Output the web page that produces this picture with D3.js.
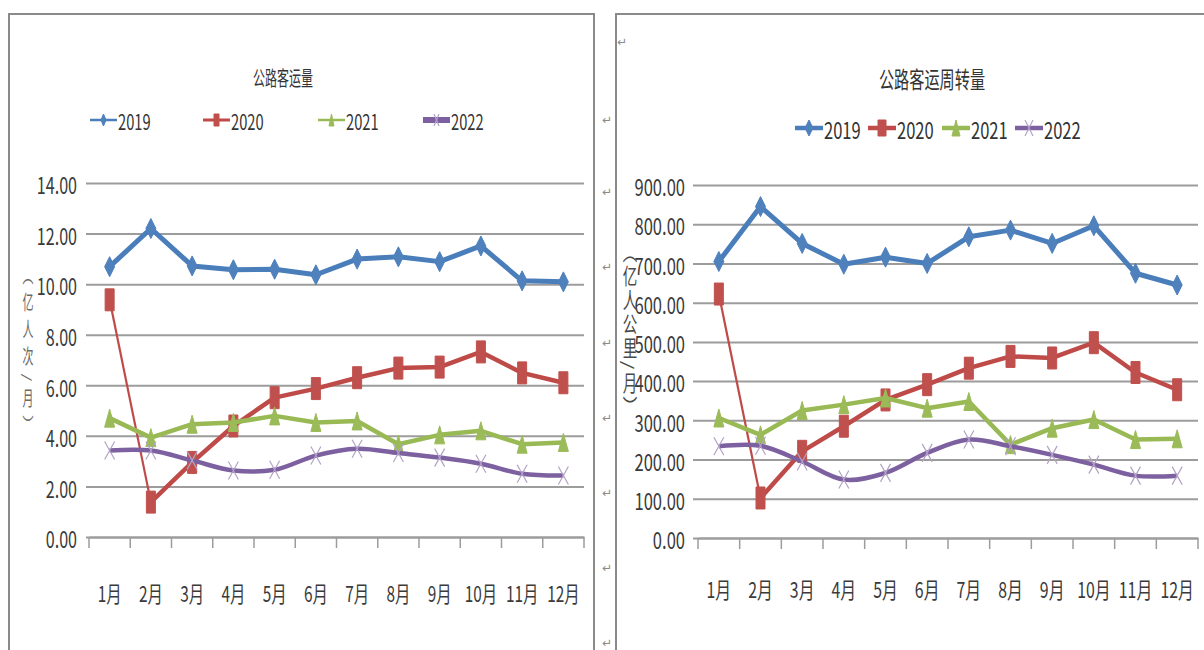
<!DOCTYPE html>
<html lang="zh">
<head>
<meta charset="UTF-8">
<title>公路客运量 / 公路客运周转量</title>
<script src="https://d3js.org/d3.v7.min.js"></script>
<style>
  body { margin: 0; background: #fff; }
  svg text { font-family: "Liberation Sans Narrow", "Noto Sans CJK SC", sans-serif; }
</style>
</head>
<body>
<div id="chart"></div>
<script>
// Data
const months = ["1月", "2月", "3月", "4月", "5月", "6月", "7月", "8月", "9月", "10月", "11月", "12月"];
const years = ["2019", "2020", "2021", "2022"];

// 公路客运量 (亿人次/月)
const pass2019 = [10.69, 12.2, 10.72, 10.57, 10.59, 10.37, 10.99, 11.08, 10.89, 11.51, 10.13, 10.09];
const pass2020 = [9.38, 1.38, 2.95, 4.39, 5.51, 5.87, 6.3, 6.68, 6.72, 7.32, 6.49, 6.1];
const pass2021 = [4.7, 3.93, 4.46, 4.53, 4.79, 4.53, 4.59, 3.67, 4.04, 4.2, 3.67, 3.74];
const pass2022 = [3.42, 3.42, 3.03, 2.63, 2.66, 3.22, 3.49, 3.32, 3.14, 2.9, 2.5, 2.43];
const passTicks = [0, 2, 4, 6, 8, 10, 12, 14];

// 公路客运周转量 (亿人公里/月)
const turn2019 = [705, 845, 751, 698, 716, 700, 768, 785, 751, 796, 675, 645];
const turn2020 = [622, 102, 221, 285, 352, 391, 433, 463, 459, 498, 422, 378];
const turn2021 = [306, 263, 325, 340, 357, 331, 348, 238, 280, 302, 251, 253];
const turn2022 = [234, 235, 195, 149, 166, 217, 251, 234, 212, 187, 159, 159];
const turnTicks = [0, 100, 200, 300, 400, 500, 600, 700, 800, 900];

const lineColors = ["#4a7ebb", "#be4b48", "#98b954", "#7d60a0"];
const markColors = ["#4f81bd", "#c0504d", "#9bbb59", "#b3a2c7"];
const shapes = ["diamond", "square", "triangle", "cross"];

var svg = d3.select("#chart").append("svg")
  .attr("width", 1204)
  .attr("height", 650);

svg.append("rect").attr("width", 1204).attr("height", 650).attr("fill", "#fff");

// text squeezed horizontally, like the reference
function label(g, x, y, s, size, sx, anchor, fill) {
  return g.append("text")
    .attr("transform", "translate(" + x + "," + y + ") scale(" + sx + ",1)")
    .attr("text-anchor", anchor)
    .attr("dominant-baseline", "central")
    .style("font-size", size + "px")
    .attr("fill", fill)
    .text(s);
}

function markerPath(shape, w, h) {
  if (shape == "diamond") return "M0," + (-h / 2) + "L" + (w / 2) + ",0L0," + (h / 2) + "L" + (-w / 2) + ",0Z";
  if (shape == "square") return "M" + (-w / 2) + "," + (-h / 2) + "h" + w + "v" + h + "h" + (-w) + "Z";
  if (shape == "triangle") return "M0," + (-h / 2) + "L" + (w / 2) + "," + (h / 2) + "L" + (-w / 2) + "," + (h / 2) + "Z";
  return "M" + (-w / 2) + "," + (-h / 2) + "L" + (w / 2) + "," + (h / 2) + "M" + (w / 2) + "," + (-h / 2) + "L" + (-w / 2) + "," + (h / 2);
}

function drawMarker(g, i, x, y, w, h) {
  var p = g.append("path")
    .attr("transform", "translate(" + x + "," + y + ")")
    .attr("d", markerPath(shapes[i], w, h));
  if (shapes[i] == "cross") {
    p.attr("fill", "none").attr("stroke", markColors[i]).attr("stroke-width", 1.2);
  } else {
    p.attr("fill", markColors[i]).attr("stroke", markColors[i]).attr("stroke-width", 1);
  }
}

function drawPanel(cfg) {
  var g = svg.append("g");

  // frame
  g.append("path")
    .attr("d", "M" + cfg.frame[0] + ",660V14H" + cfg.frame[1] + "V660")
    .attr("fill", "none")
    .attr("stroke", "#8a8a8a")
    .attr("stroke-width", 2);

  var x = d3.scaleBand().domain(months).range([cfg.x0, cfg.x1]);
  var y = d3.scaleLinear().domain([0, cfg.max]).range([cfg.yBot, cfg.yTop]);

  // gridlines + y labels
  var ya = g.append("g")
    .attr("transform", "translate(" + cfg.gridStart + ",0)")
    .call(d3.axisLeft(y).tickValues(cfg.ticks).tickSize(-(cfg.x1 - cfg.gridStart)).tickFormat(d3.format(".2f")));
  ya.select(".domain").remove();
  ya.selectAll("line").attr("stroke", "#9c9c9c").attr("stroke-width", 2);
  ya.selectAll("text")
    .attr("x", null).attr("dy", null)
    .attr("dominant-baseline", "central")
    .attr("transform", "translate(" + (-cfg.labelPad) + ",1) scale(" + cfg.sx + ",1)")
    .attr("fill", "#3a3a3a")
    .style("font-size", cfg.labelSize + "px");

  // x axis
  var xa = g.append("g")
    .attr("transform", "translate(0," + cfg.yBot + ")")
    .call(d3.axisBottom(x).tickSize(0).tickSizeOuter(0));
  xa.select(".domain").attr("stroke", "#9c9c9c").attr("stroke-width", 2);
  xa.selectAll("text")
    .attr("y", null).attr("dy", null)
    .attr("dominant-baseline", "central")
    .attr("transform", "translate(0," + cfg.xLabelDy + ") scale(" + cfg.sx + ",1)")
    .attr("fill", "#3a3a3a")
    .style("font-size", cfg.xLabelSize + "px");

  var bounds = months.map(function (m) { return x(m); }).concat([cfg.x1]);
  g.append("g").selectAll("line")
    .data(bounds)
    .enter()
    .append("line")
    .attr("x1", function (d) { return d; })
    .attr("x2", function (d) { return d; })
    .attr("y1", cfg.yBot)
    .attr("y2", cfg.yBot + 11)
    .attr("stroke", "#9c9c9c")
    .attr("stroke-width", 1.5);

  // series
  cfg.series.forEach(function (vals, i) {
    var pts = vals.map(function (v, j) { return { m: months[j], v: v }; });
    var line = d3.line()
      .x(function (d) { return x(d.m) + x.bandwidth() / 2; })
      .y(function (d) { return y(d.v); });
    if (i == 3) line.curve(d3.curveCatmullRom.alpha(0.5));

    if (i == 1) {
      // first 2020 segment is drawn thin in the original
      g.append("path").attr("d", line(pts.slice(0, 2)))
        .attr("fill", "none").attr("stroke", lineColors[i]).attr("stroke-width", 2.2);
      g.append("path").attr("d", line(pts.slice(1)))
        .attr("fill", "none").attr("stroke", lineColors[i]).attr("stroke-width", 4.5)
        .attr("stroke-linejoin", "round");
    } else {
      g.append("path").attr("d", line(pts))
        .attr("fill", "none").attr("stroke", lineColors[i])
        .attr("stroke-width", i == 0 ? 5 : 4.5)
        .attr("stroke-linejoin", "round");
    }

    var mg = g.append("g");
    pts.forEach(function (d) {
      drawMarker(mg, i, x(d.m) + x.bandwidth() / 2, y(d.v), cfg.mark[i][0], cfg.mark[i][1]);
    });
  });

  // title
  label(g, cfg.titleX, cfg.titleY, cfg.title, cfg.titleSize, cfg.titleSx, "middle", "#333");

  // legend
  years.forEach(function (yr, i) {
    var lx = cfg.legendX[i];
    g.append("line")
      .attr("x1", lx).attr("x2", lx + cfg.legendLen)
      .attr("y1", cfg.legendY).attr("y2", cfg.legendY)
      .attr("stroke", lineColors[i])
      .attr("stroke-width", cfg.legendW[i]);
    drawMarker(g, i, lx + cfg.legendLen / 2, cfg.legendY, cfg.legendMark[0], cfg.legendMark[1]);
    label(g, lx + cfg.legendLen + 1, cfg.legendY + 1, yr, cfg.legendSize, cfg.sx, "start", "#333");
  });

  // vertical axis title
  g.append("text")
    .attr("transform", "translate(" + cfg.yTitleX + "," + cfg.yTitleY + ") scale(" + cfg.yTitleSx + ",1)")
    .attr("text-anchor", "middle")
    .style("writing-mode", "vertical-rl")
    .style("font-size", cfg.yTitleSize + "px")
    .style("letter-spacing", cfg.yTitleGap + "px")
    .attr("fill", cfg.yTitleColor)
    .text(cfg.yTitle);
}

drawPanel({
  frame: [9, 594],
  x0: 89, x1: 584, gridStart: 86,
  yTop: 183, yBot: 537,
  max: 14, ticks: passTicks,
  series: [pass2019, pass2020, pass2021, pass2022],
  sx: 0.7, labelPad: 9, labelSize: 23,
  xLabelDy: 55, xLabelSize: 22,
  mark: [[10, 20], [9, 22], [10, 18], [10, 18]],
  title: "公路客运量", titleX: 283, titleY: 78, titleSize: 20, titleSx: 0.6,
  legendX: [90, 203, 318, 423], legendY: 120, legendLen: 27,
  legendW: [2.5, 3, 2.5, 6], legendMark: [5, 12], legendSize: 21,
  yTitle: "（亿人次/月）",
  yTitleX: 28, yTitleY: 354, yTitleSize: 20, yTitleGap: 7, yTitleSx: 0.55, yTitleColor: "#6a6a6a"
});

drawPanel({
  frame: [616, 1214],
  x0: 698, x1: 1198, gridStart: 693,
  yTop: 185, yBot: 538,
  max: 900, ticks: turnTicks,
  series: [turn2019, turn2020, turn2021, turn2022],
  sx: 0.72, labelPad: 8, labelSize: 23,
  xLabelDy: 51, xLabelSize: 22,
  mark: [[10, 20], [9, 22], [10, 18], [10, 18]],
  title: "公路客运周转量", titleX: 932, titleY: 78, titleSize: 23, titleSx: 0.66,
  legendX: [795, 868, 942, 1015], legendY: 128, legendLen: 28,
  legendW: [4.5, 4.5, 4.5, 4.5], legendMark: [8, 16], legendSize: 23,
  yTitle: "（亿人公里/月）",
  yTitleX: 630, yTitleY: 330, yTitleSize: 22, yTitleGap: 2, yTitleSx: 0.66, yTitleColor: "#4a4a4a"
});

// paragraph marks between the two pictures
const returnMarks = [[622, 42], [607, 120], [607, 192], [607, 267], [607, 343], [607, 418], [607, 493], [607, 568], [607, 643]];
svg.append("g").selectAll("text")
  .data(returnMarks)
  .enter()
  .append("text")
  .attr("x", function (d) { return d[0]; })
  .attr("y", function (d) { return d[1]; })
  .attr("text-anchor", "middle")
  .attr("dominant-baseline", "central")
  .attr("fill", "#8a8a8a")
  .style("font-size", "12px")
  .style("font-family", "DejaVu Sans")
  .text("↵");
</script>
</body>
</html>
